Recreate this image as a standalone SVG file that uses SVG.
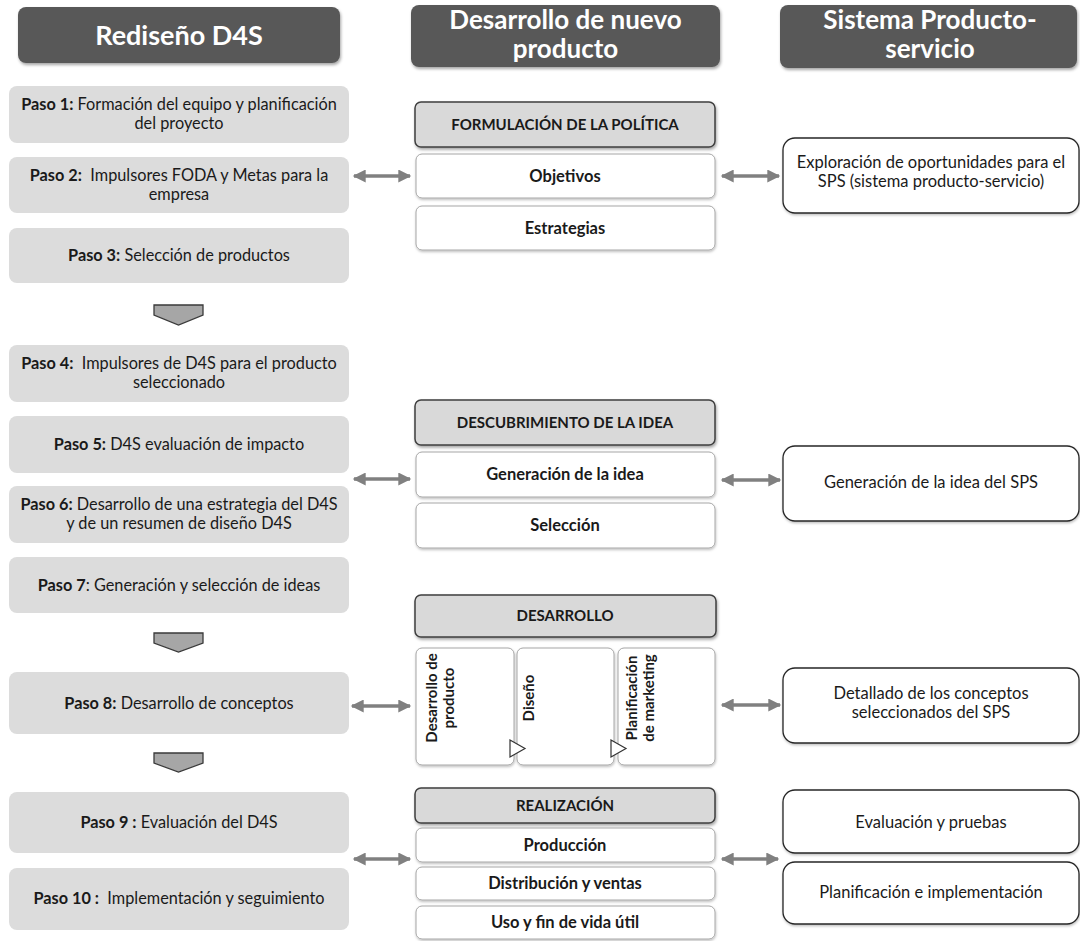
<svg xmlns="http://www.w3.org/2000/svg" width="1080" height="941" viewBox="0 0 1080 941">
  <defs>
    <filter id="shadow" x="-10%" y="-20%" width="120%" height="150%">
      <feDropShadow dx="1" dy="2" stdDeviation="1.5" flood-color="#000" flood-opacity="0.35"/>
    </filter>
    <filter id="softshadow" x="-10%" y="-20%" width="120%" height="150%">
      <feDropShadow dx="0.5" dy="1.5" stdDeviation="1" flood-color="#000" flood-opacity="0.25"/>
    </filter>
    <marker id="head" viewBox="0 0 10 10" refX="9" refY="5" markerWidth="15" markerHeight="13" markerUnits="userSpaceOnUse" orient="auto-start-reverse">
      <path d="M0,0 L10,5 L0,10 Z" fill="#808080"/>
    </marker>
  </defs>
  <style>
    text { font-family: Lato, "Open Sans", "Liberation Sans", sans-serif; fill: #1a1a1a; }
    .hdr { fill: #595959; filter: url(#shadow); }
    .hdrtxt { fill: #ffffff; font-size: 26px; font-weight: 700; text-anchor: middle; }
    .hdrbig { font-size: 27px; }
    .step { fill: #dcdcdc; }
    .steptxt { font-size: 16.3px; text-anchor: middle; }
    .b { font-weight: 700; }
    .phase { fill: #d9d9d9; stroke: #3f3f3f; stroke-width: 1.5; filter: url(#shadow); }
    .sub { fill: #ffffff; stroke: #a6a6a6; stroke-width: 1; filter: url(#softshadow); }
    .captxt { font-size: 15px; font-weight: 700; text-anchor: middle; }
    .midtxt { font-size: 16.5px; font-weight: 700; text-anchor: middle; }
    .sps { fill: #ffffff; stroke: #262626; stroke-width: 1.3; filter: url(#softshadow); }
    .spstxt { font-size: 16.5px; text-anchor: middle; }
    .rot { font-size: 15px; font-weight: 700; text-anchor: middle; }
    .link { stroke: #808080; stroke-width: 3.5; fill: none; marker-start: url(#head); marker-end: url(#head); }
    .chev { fill: #a6a6a6; stroke: #3a3a3a; stroke-width: 1.3; }
    .tri { fill: #ffffff; stroke: #333333; stroke-width: 1.2; }
  </style>

  <!-- column headers -->
  <g id="header-redesign">
    <rect class="hdr" x="18" y="7" width="322" height="56" rx="8"/>
    <text class="hdrtxt hdrbig" x="179" y="45">Rediseño D4S</text>
  </g>
  <g id="header-npd">
    <rect class="hdr" x="411" y="5" width="309" height="62" rx="8"/>
    <text class="hdrtxt" x="565.5" y="29">Desarrollo de nuevo</text>
    <text class="hdrtxt" x="565.5" y="58">producto</text>
  </g>
  <g id="header-pss">
    <rect class="hdr" x="780" y="5" width="297" height="63" rx="8"/>
    <text class="hdrtxt" x="930" y="29">Sistema Producto-</text>
    <text class="hdrtxt" x="930" y="58">servicio</text>
  </g>

  <!-- D4S redesign steps -->
  <g id="step1">
    <rect class="step" x="9" y="86" width="340" height="57" rx="8"/>
    <text class="steptxt" x="179" y="110"><tspan class="b">Paso 1:</tspan> Formación del equipo y planificación</text>
    <text class="steptxt" x="179" y="129">del proyecto</text>
  </g>
  <g id="step2">
    <rect class="step" x="9" y="157" width="340" height="56" rx="8"/>
    <text class="steptxt" x="179" y="181"><tspan class="b">Paso 2:</tspan>&#160; Impulsores FODA y Metas para la</text>
    <text class="steptxt" x="179" y="200">empresa</text>
  </g>
  <g id="step3">
    <rect class="step" x="9" y="228" width="340" height="55" rx="8"/>
    <text class="steptxt" x="179" y="261"><tspan class="b">Paso 3:</tspan> Selección de productos</text>
  </g>
  <g id="step4">
    <rect class="step" x="9" y="345" width="340" height="57" rx="8"/>
    <text class="steptxt" x="179" y="369"><tspan class="b">Paso 4:</tspan>&#160; Impulsores de D4S para el producto</text>
    <text class="steptxt" x="179" y="388">seleccionado</text>
  </g>
  <g id="step5">
    <rect class="step" x="9" y="416" width="340" height="57" rx="8"/>
    <text class="steptxt" x="179" y="450"><tspan class="b">Paso 5:</tspan> D4S evaluación de impacto</text>
  </g>
  <g id="step6">
    <rect class="step" x="9" y="486" width="340" height="57" rx="8"/>
    <text class="steptxt" x="179" y="510"><tspan class="b">Paso 6:</tspan> Desarrollo de una estrategia del D4S</text>
    <text class="steptxt" x="179" y="529">y de un resumen de diseño D4S</text>
  </g>
  <g id="step7">
    <rect class="step" x="9" y="557" width="340" height="56" rx="8"/>
    <text class="steptxt" x="179" y="591"><tspan class="b">Paso 7</tspan>: Generación y selección de ideas</text>
  </g>
  <g id="step8">
    <rect class="step" x="9" y="672" width="340" height="62" rx="8"/>
    <text class="steptxt" x="179" y="709"><tspan class="b">Paso 8:</tspan> Desarrollo de conceptos</text>
  </g>
  <g id="step9">
    <rect class="step" x="9" y="792" width="340" height="61" rx="8"/>
    <text class="steptxt" x="179" y="828"><tspan class="b">Paso 9 :</tspan> Evaluación del D4S</text>
  </g>
  <g id="step10">
    <rect class="step" x="9" y="868" width="340" height="62" rx="8"/>
    <text class="steptxt" x="179" y="904"><tspan class="b">Paso 10 :</tspan>&#160; Implementación y seguimiento</text>
  </g>

  <!-- new product development phases -->
  <g id="phase-policy">
    <rect class="phase" x="415" y="102" width="300" height="45" rx="6"/>
    <text class="captxt" x="565" y="130">FORMULACIÓN DE LA POLÍTICA</text>
  </g>
  <g id="policy-objectives">
    <rect class="sub" x="416" y="154" width="299" height="44" rx="6"/>
    <text class="midtxt" x="565" y="182">Objetivos</text>
  </g>
  <g id="policy-strategies">
    <rect class="sub" x="416" y="206" width="299" height="44" rx="6"/>
    <text class="midtxt" x="565" y="234">Estrategias</text>
  </g>

  <g id="phase-idea">
    <rect class="phase" x="415" y="400" width="300" height="45" rx="6"/>
    <text class="captxt" x="565" y="428">DESCUBRIMIENTO DE LA IDEA</text>
  </g>
  <g id="idea-generation">
    <rect class="sub" x="416" y="452" width="299" height="45" rx="6"/>
    <text class="midtxt" x="565" y="480">Generación de la idea</text>
  </g>
  <g id="idea-selection">
    <rect class="sub" x="416" y="503" width="299" height="45" rx="6"/>
    <text class="midtxt" x="565" y="531">Selección</text>
  </g>

  <g id="phase-development">
    <rect class="phase" x="415" y="595" width="301" height="42" rx="6"/>
    <text class="captxt" x="565" y="621">DESARROLLO</text>
  </g>
  <g id="dev-product">
    <rect class="sub" x="416" y="648" width="98" height="117" rx="6"/>
    <text class="rot" transform="translate(437,698) rotate(-90)">Desarrollo de</text>
    <text class="rot" transform="translate(454,698) rotate(-90)">producto</text>
  </g>
  <g id="dev-design">
    <rect class="sub" x="517" y="648" width="97" height="117" rx="6"/>
    <text class="rot" transform="translate(534,698) rotate(-90)">Diseño</text>
  </g>
  <g id="dev-marketing">
    <rect class="sub" x="618" y="648" width="97" height="117" rx="6"/>
    <text class="rot" transform="translate(637,698) rotate(-90)">Planificación</text>
    <text class="rot" transform="translate(654,698) rotate(-90)">de marketing</text>
  </g>

  <g id="phase-realization">
    <rect class="phase" x="415" y="788" width="300" height="35" rx="6"/>
    <text class="captxt" x="565" y="811">REALIZACIÓN</text>
  </g>
  <g id="real-production">
    <rect class="sub" x="416" y="828" width="299" height="34" rx="6"/>
    <text class="midtxt" x="565" y="851">Producción</text>
  </g>
  <g id="real-distribution">
    <rect class="sub" x="416" y="867" width="299" height="33" rx="6"/>
    <text class="midtxt" x="565" y="889">Distribución y ventas</text>
  </g>
  <g id="real-use">
    <rect class="sub" x="416" y="906" width="299" height="33" rx="6"/>
    <text class="midtxt" x="565" y="928">Uso y fin de vida útil</text>
  </g>

  <!-- product-service system stages -->
  <g id="pss-exploration">
    <rect class="sps" x="783" y="138" width="296" height="75" rx="12"/>
    <text class="spstxt" x="931" y="168">Exploración de oportunidades para el</text>
    <text class="spstxt" x="931" y="187">SPS (sistema producto-servicio)</text>
  </g>
  <g id="pss-idea">
    <rect class="sps" x="783" y="446" width="296" height="75" rx="12"/>
    <text class="spstxt" x="931" y="488">Generación de la idea del SPS</text>
  </g>
  <g id="pss-detail">
    <rect class="sps" x="783" y="668" width="296" height="75" rx="12"/>
    <text class="spstxt" x="931" y="699">Detallado de los conceptos</text>
    <text class="spstxt" x="931" y="718">seleccionados del SPS</text>
  </g>
  <g id="pss-evaluation">
    <rect class="sps" x="783" y="790" width="296" height="63" rx="12"/>
    <text class="spstxt" x="931" y="828">Evaluación y pruebas</text>
  </g>
  <g id="pss-planning">
    <rect class="sps" x="783" y="862" width="296" height="62" rx="12"/>
    <text class="spstxt" x="931" y="898">Planificación e implementación</text>
  </g>

  <!-- connectors: two-way links and flow chevrons -->
  <g id="connectors">
    <path class="link" d="M354,176 H410"/>
    <path class="link" d="M722,176 H779"/>
    <path class="link" d="M354,479 H410"/>
    <path class="link" d="M722,480 H780"/>
    <path class="link" d="M352,706 H410"/>
    <path class="link" d="M722,705 H780"/>
    <path class="link" d="M354,859 H410"/>
    <path class="link" d="M722,859 H778"/>
    <path class="chev" d="M154,305 H203 V315 L178.5,325 L154,315 Z"/>
    <path class="chev" d="M154,633 H203 V643 L178.5,652 L154,643 Z"/>
    <path class="chev" d="M154,753 H203 V763 L178.5,772 L154,763 Z"/>
    <path class="tri" d="M510,740 L525,748.5 L510,757 Z"/>
    <path class="tri" d="M611,740 L626,748.5 L611,757 Z"/>
  </g>
</svg>
